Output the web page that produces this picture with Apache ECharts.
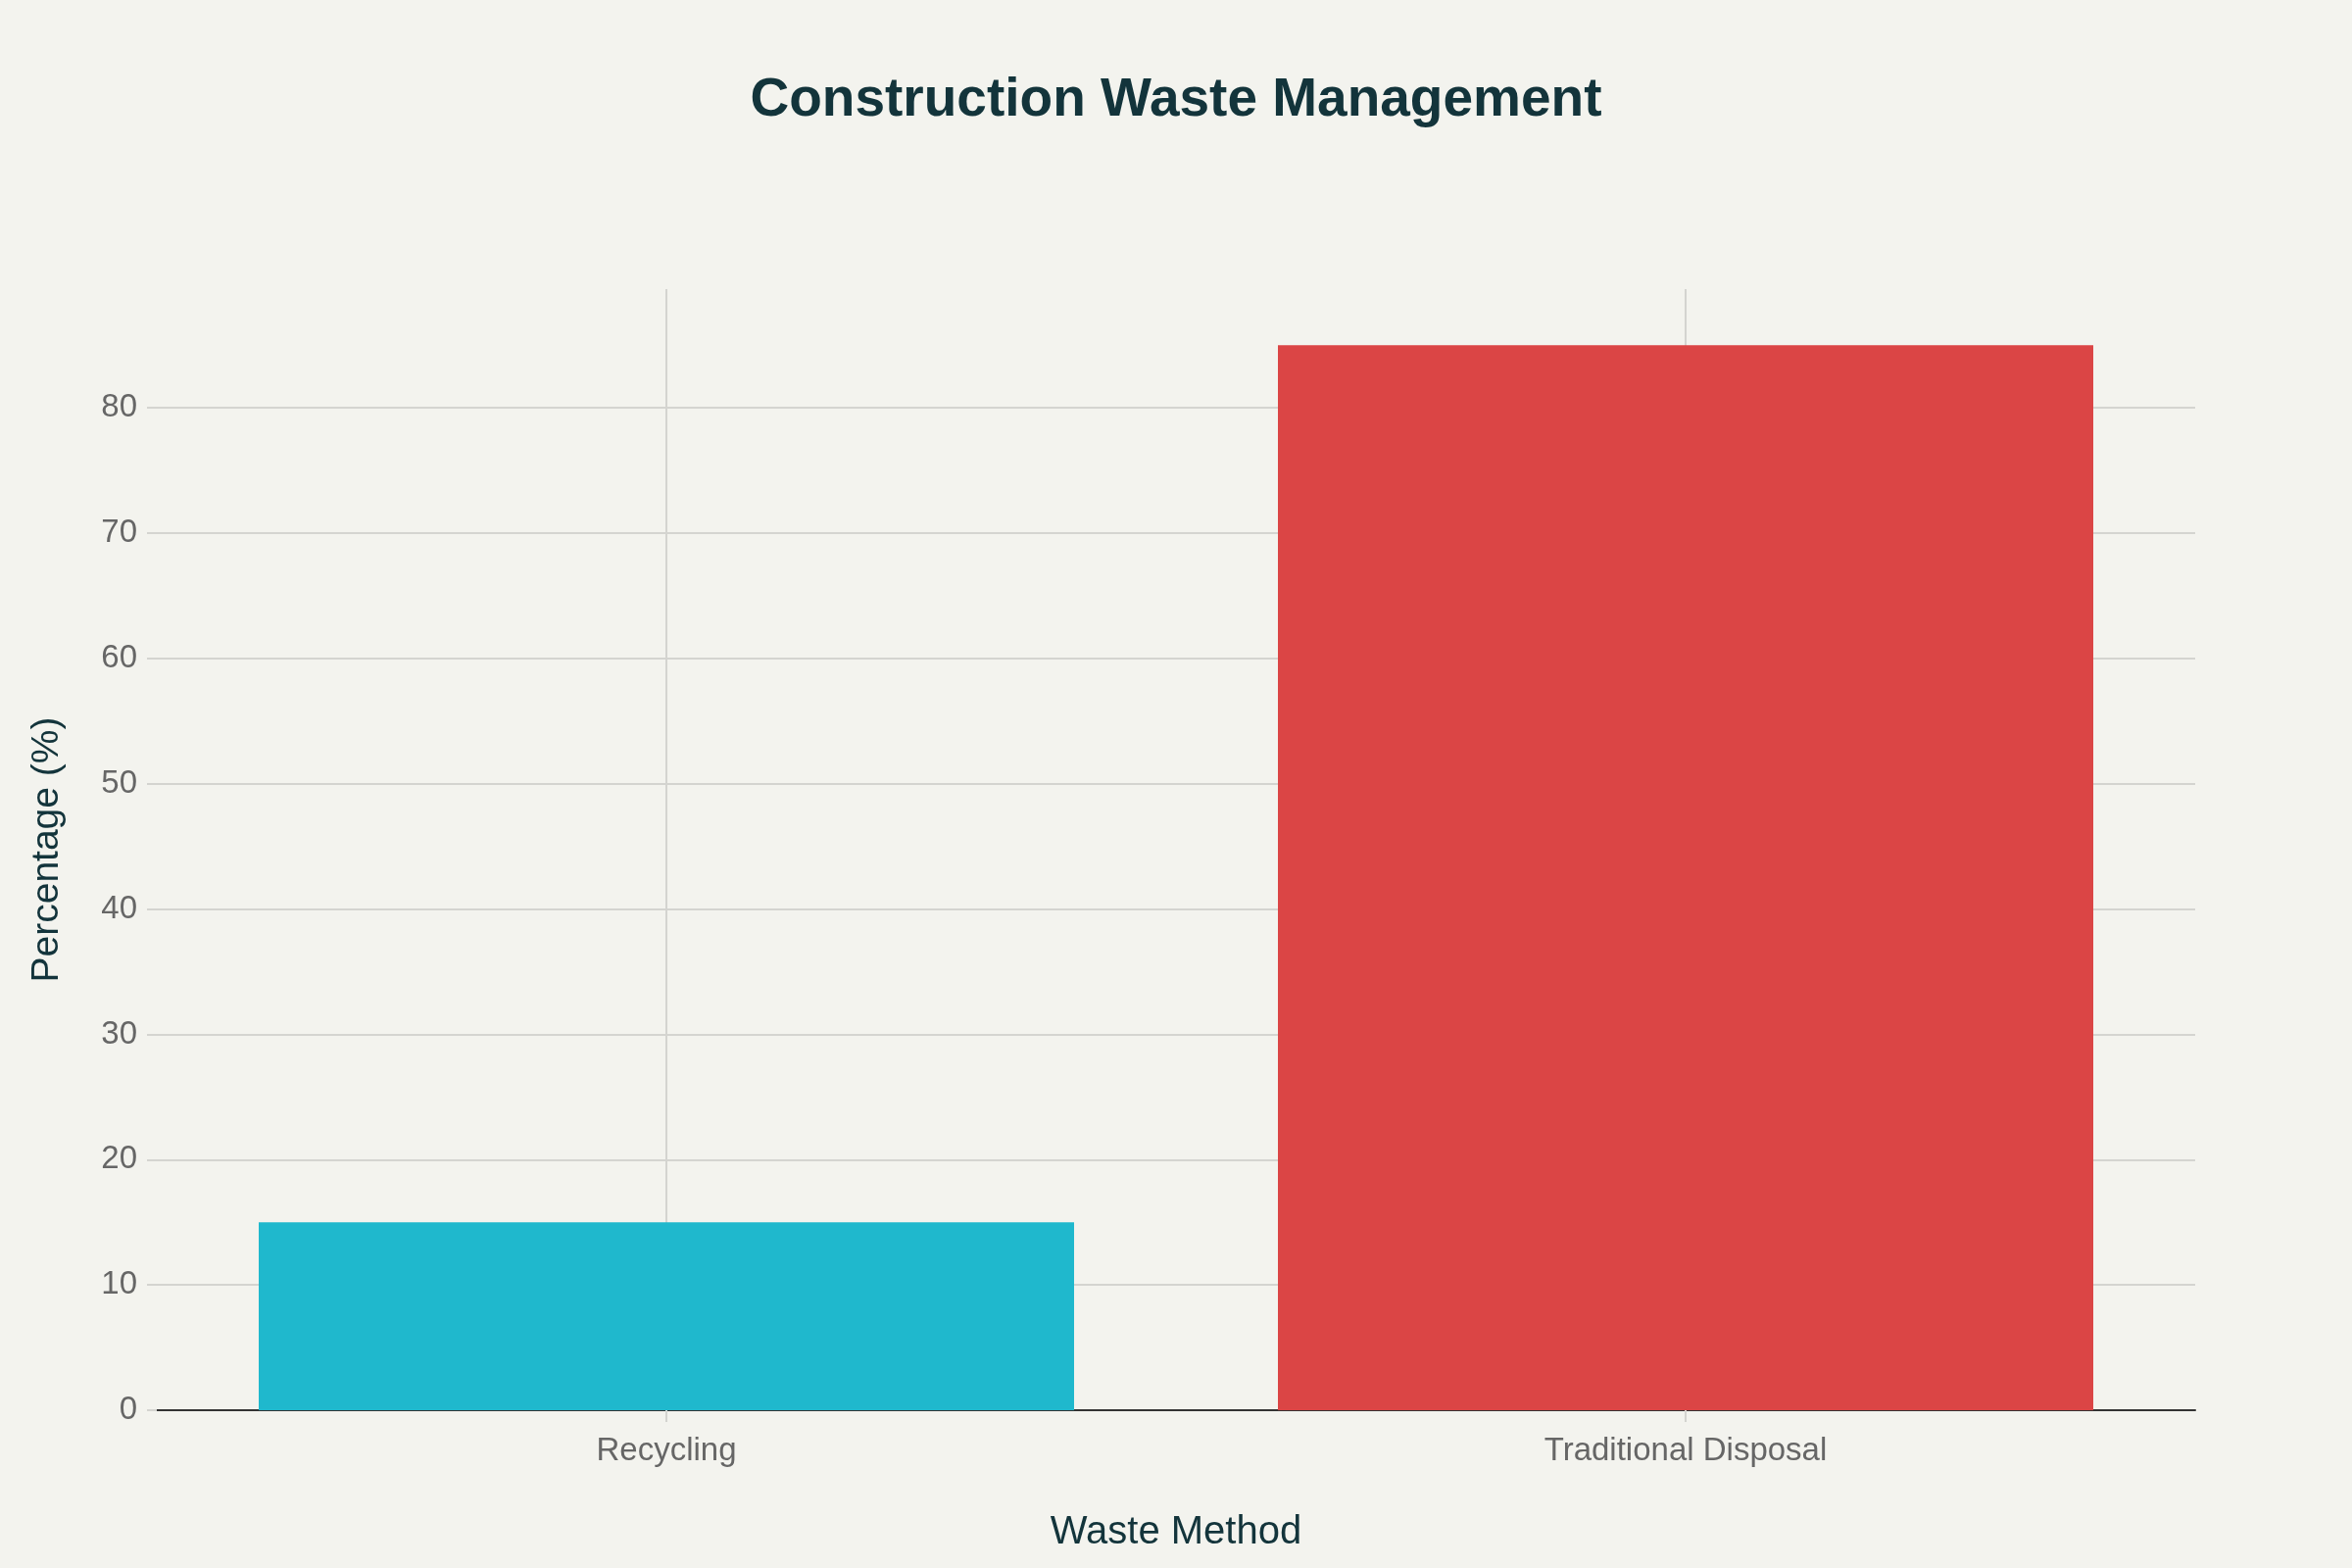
<!DOCTYPE html>
<html>
<head>
<meta charset="utf-8">
<script src="https://cdn.jsdelivr.net/npm/echarts@6/dist/echarts.min.js"></script>
<style>
html,body{margin:0;padding:0;background:#F3F3EE;}
#chart{width:2400px;height:1600px;}
</style>
</head>
<body>
<div id="chart"></div>
<script>
const categories = ['Recycling', 'Traditional Disposal'];
const percentages = [15, 85];
const barColors = ['#1FB8CD', '#DB4545'];
const yTicks = [0, 10, 20, 30, 40, 50, 60, 70, 80];

const chart = echarts.init(document.getElementById('chart'));
const font = 'Liberation Sans, Arial, sans-serif';
chart.setOption({
  backgroundColor: '#F3F3EE',
  animation: false,
  title: {
    text: 'Construction Waste Management',
    left: 'center',
    top: 70,
    textStyle: {fontFamily: font, fontSize: 55, fontWeight: 'bold', color: '#13343B'}
  },
  grid: {left: 160, right: 160, top: 295, bottom: 161, containLabel: false},
  xAxis: {
    type: 'category',
    data: categories,
    name: 'Waste Method',
    nameLocation: 'middle',
    nameGap: 105,
    nameTextStyle: {fontFamily: font, fontSize: 40, color: '#13343B'},
    axisLine: {show: true, lineStyle: {color: '#333333', width: 2}},
    axisTick: {show: true, alignWithLabel: true, length: 12, lineStyle: {color: '#D4D4D0', width: 2}},
    axisLabel: {fontFamily: font, fontSize: 33, color: '#666666', margin: 25},
    splitLine: {show: true, alignWithLabel: true, lineStyle: {color: '#D4D4D0', width: 2}}
  },
  yAxis: {
    type: 'value',
    min: 0,
    max: 89.47,
    interval: 10,
    name: 'Percentage (%)',
    nameLocation: 'middle',
    nameGap: 92,
    nameTextStyle: {fontFamily: font, fontSize: 39, color: '#13343B'},
    axisLine: {show: false},
    axisTick: {show: true, length: 10, lineStyle: {color: '#D4D4D0', width: 2}},
    axisLabel: {
      fontFamily: font, fontSize: 33, color: '#666666', margin: 20,
      showMaxLabel: false,
      formatter: v => (yTicks.indexOf(v) >= 0 ? String(v) : '')
    },
    splitLine: {show: true, showMaxLine: false, lineStyle: {color: '#D4D4D0', width: 2}}
  },
  series: [{
    type: 'bar',
    barCategoryGap: '20%',
    data: percentages.map((v, i) => ({value: v, itemStyle: {color: barColors[i]}})),
    itemStyle: {borderWidth: 0}
  }]
});
</script>
</body>
</html>
